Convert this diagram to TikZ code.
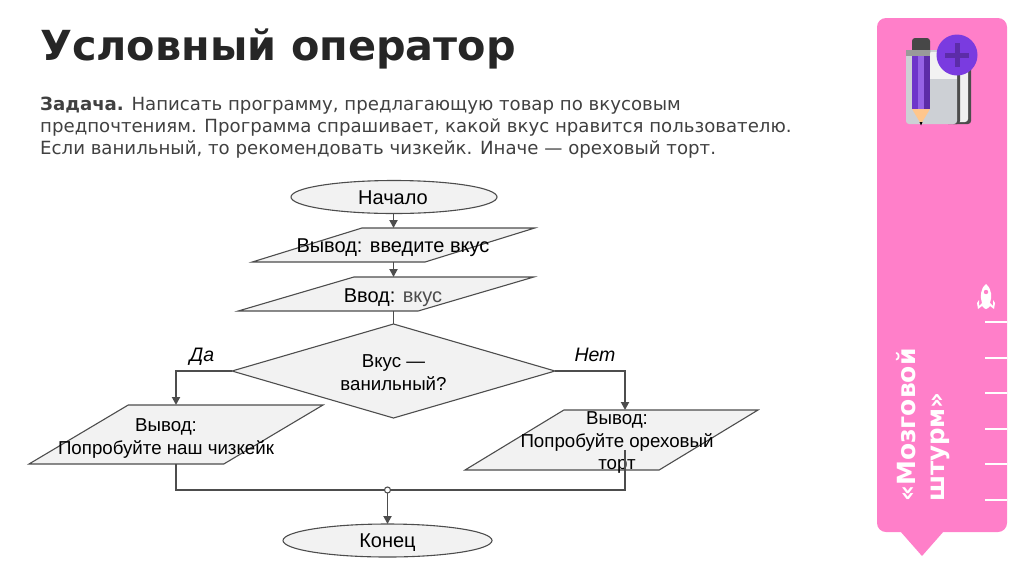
\documentclass[tikz,border=0pt]{standalone}
\usepackage{fontspec}
\setmainfont{Liberation Sans}
\newfontfamily\headfont{DejaVu Sans}
\usetikzlibrary{shapes.geometric,arrows.meta}
\definecolor{sidepink}{HTML}{FF7FC9}
\definecolor{blockgray}{HTML}{F2F2F2}
\definecolor{linegray}{HTML}{4D4D4D}
\definecolor{iconviolet}{HTML}{7A3BE0}
\definecolor{covergray}{HTML}{CDD0D5}
\tikzset{
    flowtext/.style={font=\fontsize{18.7}{22.5}\selectfont, align=center, inner sep=0pt},
    bigtext/.style={font=\fontsize{20}{22.5}\selectfont, inner sep=0pt},
    answer/.style={font=\itshape\fontsize{19.5}{22}\selectfont, inner sep=0pt},
    terminal/.style={ellipse, draw=linegray, fill=blockgray, line width=1.1pt, inner sep=0pt, outer sep=0pt},
    datablock/.style={trapezium, trapezium stretches=true, draw=linegray, fill=blockgray, line width=1.1pt, inner sep=0pt, outer sep=0pt},
    decision/.style={diamond, draw=linegray, fill=blockgray, line width=1.1pt, inner sep=0pt, outer sep=0pt, aspect=3.4},
    flow/.style={draw=linegray, line width=1.9pt, -{Triangle[length=8pt,width=8pt]}},
    joinline/.style={draw=linegray, line width=1.1pt},
}
\begin{document}
\begin{tikzpicture}[x=1pt,y=-1pt]
    \useasboundingbox (0,0) rectangle (1024,574);
    \node[anchor=west, inner sep=0pt, font=\headfont\bfseries\fontsize{41.4}{46}\selectfont, text=black!85] (title) at (40,48.5) {Условный оператор};
    \node[anchor=north west, inner sep=0pt, align=left, text=black!75, font=\headfont\fontsize{18.15}{22.3}\selectfont] (task) at (40,96.5) {\textbf{Задача.} Написать программу, предлагающую товар по вкусовым\\предпочтениям. Программа спрашивает, какой вкус нравится пользователю.\\Если ванильный, то рекомендовать чизкейк. Иначе — ореховый торт.};

    \node[terminal, minimum width=206pt, minimum height=33pt] (start) at (394,197) {};
    \node[bigtext] (starttext) at (393,197.5) {Начало};
    \node[datablock, trapezium left angle=31.3, trapezium right angle=148.7, minimum width=283pt, minimum height=34pt] (ask) at (393.5,245) {\phantom{x}};
    \node[bigtext] (asktext) at (393,248) {Вывод: введите вкус};
    \node[datablock, trapezium left angle=30.4, trapezium right angle=149.6, minimum width=296pt, minimum height=34pt] (read) at (386,294) {\phantom{x}};
    \node[bigtext] (readtext) at (393,297.5) {Ввод: \textcolor{linegray}{вкус}};
    \node[decision, minimum width=323pt, minimum height=94pt] (check) at (393.5,371) {};
    \node[flowtext] (checktext) at (393.5,372.5) {Вкус —\\ванильный?};
    \node[datablock, trapezium left angle=45.5, trapezium right angle=134.5, minimum width=294pt, minimum height=59pt] (cake) at (176,434.5) {\phantom{x}};
    \node[flowtext] (caketext) at (166,438.5) {Вывод:\\Попробуйте наш чизкейк};
    \node[datablock, trapezium left angle=45.5, trapezium right angle=134.5, minimum width=293pt, minimum height=60pt] (nut) at (611.5,440) {\phantom{x}};
    \node[flowtext] (nuttext) at (617,442.5) {Вывод:\\Попробуйте ореховый\\торт};
    \node[terminal, minimum width=209pt, minimum height=33pt] (finish) at (387.5,540.5) {};
    \node[bigtext] (finishtext) at (387.5,543) {Конец};

    \node[answer] (yes) at (202,357) {Да};
    \node[answer] (no) at (595,355) {Нет};

    \coordinate (leftdrop) at (176,371);
    \coordinate (rightdrop) at (625,371);
    \coordinate (leftjoin) at (176,490);
    \coordinate (rightjoin) at (625,490);
    \coordinate (leftout) at (176,464);
    \coordinate (rightout) at (625,450);
    \coordinate (midjoin) at (387.5,490);

    \draw[flow] (start.south -| ask.south) -- (ask.north);
    \draw[flow] (ask.south) -- (ask.south |- read.north);
    \draw[joinline] (read.south -| check.north) -- (check.north);
    \draw[flow] (check.west) -- (leftdrop) -- (leftdrop |- cake.north);
    \draw[flow] (check.east) -- (rightdrop) -- (rightdrop |- nut.north);
    \draw[joinline] (leftout) -- (leftjoin) -- (rightjoin) -- (rightout);
    \draw[flow] (midjoin) -- (finish.north);
    \filldraw[joinline, fill=white] (midjoin) circle (3pt);

    \fill[sidepink, rounded corners=9pt] (877,18) rectangle (1007,532);
    \fill[sidepink] (900,531) -- (944,531) -- (922,556) -- cycle;
    \foreach \tick in {322,358,393,429,464,500}
        \draw[white, line width=1.2pt] (985,\tick) -- (1007,\tick);
    \node[rotate=90, anchor=west, inner sep=0pt, text=white, font=\headfont\bfseries\fontsize{25}{26}\selectfont] (brain) at (906,502) {«Мозговой};
    \node[rotate=90, anchor=west, inner sep=0pt, text=white, font=\headfont\bfseries\fontsize{24.5}{26}\selectfont] (storm) at (940,502) {штурм»};

    \fill[white] (986,284) .. controls (980,289) and (980,297) .. (982,303) -- (979,306) -- (979,300) -- (977,303) -- (978,309) -- (982,306) -- (984,308) -- (986,309) -- (988,308) -- (990,306) -- (994,309) -- (995,303) -- (993,300) -- (993,306) -- (990,303) .. controls (992,297) and (992,289) .. (986,284) -- cycle;
    \fill[sidepink] (986,292) circle (2.2pt);

    \fill[black!70, rounded corners=3pt] (950,60) rectangle (971,124);
    \fill[black!6, rounded corners=3pt] (955,60) rectangle (968,122);
    \fill[black!70, rounded corners=3pt] (945,60) rectangle (960,124);
    \fill[covergray, rounded corners=3pt] (906,50) rectangle (957,124);
    \fill[black!5] (930,52) rectangle (957,79);
    \fill[black!40] (906,50) rectangle (930,56);
    \fill[black!72, rounded corners=3pt] (912,38) rectangle (930,56);
    \fill[black!40] (912,50) rectangle (930,56);
    \fill[iconviolet!90!black] (912,56) rectangle (930,109);
    \fill[iconviolet!80!white] (918,56) rectangle (924,109);
    \fill[iconviolet!75!black] (924,56) rectangle (930,109);
    \fill[orange!45!white] (912,109) -- (930,109) -- (921,124) -- cycle;
    \fill[black] (919.5,122) -- (922.5,122) -- (921,125.5) -- cycle;
    \fill[iconviolet] (957,55) circle (20.5pt);
    \fill[iconviolet!75!black] (954.5,43) rectangle (959.5,67);
    \fill[iconviolet!75!black] (945,52.5) rectangle (969,57.5);
\end{tikzpicture}
\end{document}
